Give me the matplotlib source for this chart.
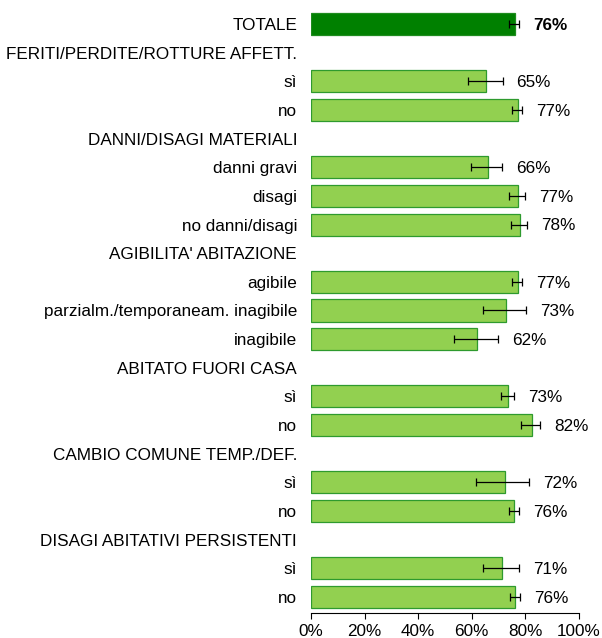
import matplotlib
matplotlib.use("Agg")
import matplotlib.pyplot as plt
import numpy as np

plt.rcParams["font.family"] = ["Liberation Sans", "DejaVu Sans"]

# rows from top to bottom; None marks a group header (no bar)
labels = [
    "TOTALE",
    "FERITI/PERDITE/ROTTURE AFFETT.", "sì", "no",
    "DANNI/DISAGI MATERIALI", "danni gravi", "disagi", "no danni/disagi",
    "AGIBILITA' ABITAZIONE", "agibile", "parzialm./temporaneam. inagibile", "inagibile",
    "ABITATO FUORI CASA", "sì", "no",
    "CAMBIO COMUNE TEMP./DEF.", "sì", "no",
    "DISAGI ABITATIVI PERSISTENTI", "sì", "no",
]
values = [76.1, None, 65.3, 77.1, None, 65.9, 77.1, 77.8, None, 77.1, 72.8, 61.9,
          None, 73.4, 82.3, None, 72.4, 75.9, None, 71.4, 76.2]
ci_low = [73.9, None, 58.7, 75.0, None, 59.8, 73.9, 74.6, None, 75.1, 64.2, 53.4,
          None, 71.0, 78.5, None, 61.4, 73.9, None, 64.2, 74.3]
ci_high = [77.7, None, 71.5, 78.9, None, 71.3, 79.9, 80.5, None, 78.9, 80.2, 69.7,
           None, 75.9, 85.6, None, 81.3, 77.7, None, 77.7, 78.1]

fig = plt.figure(figsize=(6.02, 6.38), dpi=100)
ax = fig.add_axes([0.5166, 0.0392, 0.4452, 0.9456])

ypos = np.arange(len(labels))
for i, v in enumerate(values):
    if v is None:
        continue
    total = i == 0
    ax.barh(i, v, height=0.77,
            color="#008000" if total else "#92D050",
            edgecolor="#1E8C1E" if total else "#2E9A2E", linewidth=0.9)
    ax.errorbar(v, i, xerr=[[v - ci_low[i]], [ci_high[i] - v]], fmt="none",
                ecolor="black", elinewidth=0.9, capsize=3, capthick=0.9)
    ax.text(ci_high[i] + 5.2, i + 0.05, f"{v:.0f}%", va="center", ha="left",
            fontsize=12.3, fontweight="bold" if total else "normal")

ax.set_yticks(ypos)
ax.set_yticklabels(labels, fontsize=12.3)
ax.tick_params(axis="y", length=0, pad=10)
ax.set_ylim(len(labels) - 1 + 0.56, -0.5)

ax.set_xlim(0, 100)
ax.set_xticks(np.arange(0, 101, 20))
ax.set_xticklabels([f"{t}%" for t in range(0, 101, 20)], fontsize=12.3)
ax.tick_params(axis="x", length=4, width=0.8, pad=4)

for s in ["top", "right", "left"]:
    ax.spines[s].set_visible(False)
ax.spines["bottom"].set_linewidth(0.8)

fig.savefig("out.png", dpi=100)
